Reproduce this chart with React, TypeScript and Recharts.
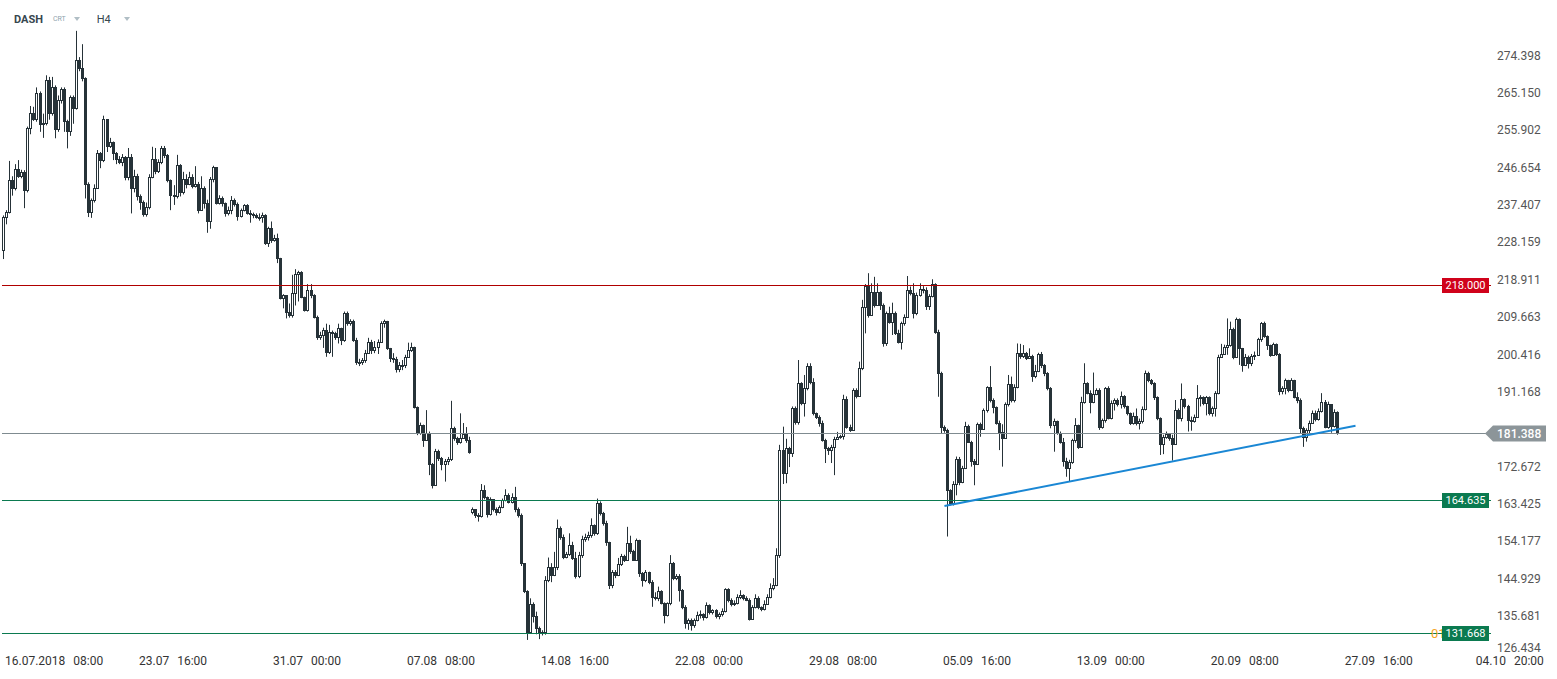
import React from 'react'
import { ComposedChart, Bar, XAxis, YAxis, ReferenceLine } from 'recharts'

// DASH / CRT, H4 candles, 16.07.2018 08:00 onwards
const INK = '#263238'

const firstOpen = 226.7
const gapOpens: Array<[number, number]> = [[154, 161.9]]

const closes = [
  // 16.07 - 25.07
  234.8, 236.2, 244.1, 242.0, 246.7, 245.1, 246.0, 241.6, 256.9, 260.6, 259.2, 265.5, 257.9, 258.3, 268.8, 260.6, 267.2, 256.7, 263.9, 266.5,
  258.8, 256.2, 264.5, 262.0, 273.8, 271.9, 269.3, 243.0, 236.2, 239.1, 242.2, 250.7, 249.0, 259.1, 252.6, 253.5, 250.7, 249.3, 248.6, 249.8,
  244.9, 249.8, 242.1, 245.1, 240.0, 238.7, 235.6, 237.5, 244.8, 249.2, 246.3, 248.6, 251.9,
  250.3, 244.1, 240.4, 240.0, 247.8, 241.2, 244.2, 243.1, 244.9, 242.6, 243.2, 236.7, 242.2, 238.5, 233.8, 244.2, 247.2, 238.5, 239.5, 238.3,
  235.8, 236.6, 239.1, 238.1, 235.2, 236.6, 237.8, 236.0, 235.7, 235.4, 235.0, 234.8, 235.5, 228.4, 232.1, 229.2, 229.8, 224.7, 214.8, 215.6,
  211.5, 210.6, 216.0, 220.8, 221.2, 215.2, 211.9, 216.8, 215.6, 210.2, 205.3, 205.8, 207.0, 201.6, 206.5,
  // 03.08 - 11.08
  206.1, 205.3, 207.4, 204.5, 211.1, 208.7, 209.2, 204.5, 199.1, 199.0, 199.5, 201.2, 204.0, 202.0, 202.8, 204.0, 208.7, 209.2, 202.4, 200.0,
  199.7, 197.4, 198.3, 198.2, 200.3, 202.1, 202.7, 187.8, 181.4, 183.4, 179.7, 181.5, 173.8, 168.6, 177.0, 175.2, 173.8, 174.6, 174.9, 182.6,
  180.1, 179.2, 180.3, 181.2, 179.7, 176.8,
  // 11.08 - 20.08
  162.5, 161.1, 160.8, 167.3, 165.7, 161.4, 165.0, 162.5, 161.9, 163.0, 164.8, 166.1, 164.4, 165.7, 162.5, 161.1, 149.2, 142.2, 132.2, 139.1,
  136.0, 133.1, 131.8, 132.1, 145.0, 148.3, 146.3, 148.3, 157.8, 155.8, 150.8, 151.4, 153.7, 150.4, 146.0, 151.2, 155.3, 155.8, 156.2, 158.6,
  156.6, 164.2, 161.7, 159.1, 154.5, 143.8, 147.1, 146.3, 149.1, 151.0, 150.0, 154.2,
  // 20.08 - 29.08
  152.1, 150.0, 155.0, 146.7, 145.0, 147.1, 144.6, 140.9, 140.5, 142.2, 139.3, 136.4, 139.3, 149.2, 145.5, 146.0, 142.6, 138.4, 134.3, 135.1,
  133.9, 135.1, 136.3, 136.5, 135.8, 138.8, 137.2, 137.5, 136.0, 136.6, 137.4, 142.7, 140.1, 139.0, 139.4, 140.9, 141.2, 140.6, 140.2, 135.5,
  138.4, 140.7, 138.3, 137.8, 139.2, 140.9, 143.0, 143.8, 151.2, 177.2, 171.5, 177.6, 176.4, 187.5, 184.2, 193.7,
  // 29.08 - 07.09
  188.9, 192.5, 198.0, 194.1, 186.3, 185.5, 183.8, 179.7, 177.6, 177.3, 178.0, 179.9, 180.5, 180.6, 189.8, 183.0, 182.2, 192.1, 190.7, 197.6,
  212.7, 217.8, 210.6, 216.4, 213.1, 216.4, 213.1, 203.6, 211.1, 209.0, 211.1, 206.3, 204.0, 208.6, 210.2, 216.8, 216.0, 211.1, 215.6, 217.0,
  216.8, 212.9, 215.3, 218.3, 206.5, 196.2, 183.0, 182.2, 167.3, 164.0, 168.9, 175.1, 169.4, 172.7,
  // 07.09 - 16.09
  183.2, 179.3, 174.6, 173.8, 183.7, 182.5, 187.1, 192.7, 189.6, 187.8, 184.0, 181.8, 180.1, 188.6, 193.6, 189.6, 192.9, 201.3, 200.5, 201.3,
  200.1, 200.6, 195.5, 196.9, 201.0, 198.3, 196.4, 192.5, 183.4, 184.5, 181.5, 179.3, 174.6, 172.7, 174.3, 179.7, 183.4, 178.0, 189.2, 193.7,
  191.4, 189.2, 191.2, 192.2, 183.0, 184.6, 192.5, 185.1, 188.8, 189.5, 188.6, 190.6, 188.0, 186.3,
  // 16.09 - 27.09
  183.8, 185.6, 183.8, 184.5, 187.3, 196.4, 194.6, 193.9, 190.3, 185.1, 178.7, 180.4, 181.2, 180.2, 178.8, 187.1, 185.1, 189.8, 188.0, 184.6,
  184.3, 185.5, 190.0, 190.3, 188.8, 190.3, 186.3, 187.5, 191.3, 200.3, 201.0, 202.8, 203.2, 207.1, 200.3, 209.6, 202.4, 198.3, 200.3, 198.7,
  200.5, 200.8, 204.6, 208.7, 205.4, 203.2, 200.7, 203.5, 201.0, 191.9, 192.6, 194.5, 192.0, 194.5, 190.4,
  189.6, 182.6, 180.5, 182.2, 184.0, 186.3, 184.8, 187.0, 189.2, 183.0, 188.5, 183.2, 186.7, 181.4,
]

const highs = [
  235.3, 236.6, 248.8, 245.0, 248.0, 249.0, 246.6, 246.5, 257.3, 262.4, 262.2, 267.0, 266.0, 260.5, 270.0, 269.6, 269.6, 267.5, 265.0, 267.0,
  267.0, 259.0, 265.0, 265.0, 281.0, 274.5, 277.7, 269.5, 243.5, 239.5, 243.0, 251.5, 251.0, 260.0, 259.0, 254.5, 253.6, 251.0, 250.0, 250.5,
  250.0, 252.0, 250.5, 246.6, 245.6, 240.5, 239.0, 238.5, 245.5, 252.3, 252.0, 249.2, 252.5,
  252.5, 250.5, 244.2, 242.8, 250.3, 248.0, 246.1, 245.5, 246.1, 245.5, 247.5, 243.6, 245.0, 242.5, 239.2, 244.8, 247.6, 242.6, 240.3, 240.0,
  238.5, 237.5, 240.1, 239.5, 238.5, 237.0, 238.1, 238.1, 236.6, 236.0, 235.8, 235.8, 236.0, 235.6, 232.5, 233.8, 230.5, 230.8, 224.8, 215.8,
  215.5, 213.5, 220.6, 222.0, 221.6, 221.5, 215.2, 218.3, 218.3, 215.8, 210.5, 206.5, 207.5, 208.5, 208.2,
  206.8, 206.5, 208.5, 207.5, 211.5, 211.5, 209.6, 209.5, 205.0, 199.8, 200.0, 202.0, 205.0, 204.5, 204.2, 204.6, 209.1, 209.5, 208.5, 202.5,
  201.2, 200.3, 199.0, 199.5, 200.8, 203.8, 203.8, 202.8, 188.0, 184.0, 183.5, 187.1, 181.8, 174.0, 177.5, 177.3, 175.5, 175.0, 175.5, 189.4,
  183.0, 180.5, 186.3, 183.9, 182.9, 180.5,
  163.0, 162.5, 161.6, 168.8, 168.5, 165.5, 165.5, 165.0, 163.0, 163.5, 165.2, 167.5, 166.5, 166.5, 168.1, 163.0, 161.5, 149.0, 142.5, 140.5,
  139.5, 137.2, 133.5, 132.6, 146.0, 150.6, 149.2, 152.0, 160.0, 158.3, 156.3, 152.0, 156.6, 154.5, 152.0, 152.0, 156.0, 156.5, 157.0, 160.3,
  158.8, 165.2, 164.5, 161.9, 159.7, 154.5, 147.5, 147.5, 150.5, 151.5, 151.3, 158.2,
  156.0, 152.5, 155.3, 155.0, 147.0, 147.5, 147.0, 145.0, 142.0, 143.4, 142.5, 139.5, 139.5, 151.2, 149.5, 146.5, 146.5, 142.8, 138.8, 135.5,
  135.5, 135.5, 137.2, 137.5, 136.8, 139.5, 139.0, 137.8, 137.8, 137.0, 138.0, 143.0, 143.0, 140.5, 140.0, 141.5, 142.5, 141.5, 141.0, 140.5,
  138.8, 141.5, 141.0, 138.5, 140.0, 141.5, 144.2, 145.5, 152.9, 178.5, 183.0, 180.0, 178.0, 188.0, 188.0, 199.5,
  194.0, 195.8, 198.7, 198.7, 195.0, 186.5, 185.8, 184.5, 180.0, 178.0, 178.5, 180.5, 181.7, 181.0, 190.9, 190.5, 183.5, 192.5, 192.5, 199.1,
  214.4, 218.3, 221.0, 218.5, 220.1, 218.5, 216.5, 213.5, 211.5, 212.7, 213.7, 211.5, 207.0, 209.0, 210.8, 220.3, 217.7, 218.5, 216.2, 218.5,
  217.8, 217.5, 215.8, 219.5, 218.5, 207.0, 196.6, 183.3, 182.5, 167.5, 169.5, 175.6, 175.5, 173.3,
  184.2, 183.5, 179.5, 175.0, 184.0, 184.0, 187.5, 193.0, 198.0, 190.0, 188.0, 184.5, 183.6, 189.0, 195.8, 195.4, 193.5, 203.6, 203.5, 203.2,
  201.5, 202.4, 200.8, 198.3, 201.3, 201.5, 198.5, 196.5, 192.8, 185.0, 184.2, 181.8, 180.2, 175.3, 174.8, 180.0, 185.1, 183.5, 190.4, 198.7,
  194.0, 192.0, 196.4, 192.5, 192.5, 185.0, 192.8, 193.0, 189.5, 190.0, 190.0, 191.7, 190.8, 188.2,
  186.5, 186.5, 187.5, 185.0, 188.0, 196.9, 196.6, 194.8, 194.0, 190.5, 185.3, 181.0, 181.8, 181.3, 181.0, 189.6, 187.5, 193.7, 190.0, 188.4,
  185.5, 186.0, 193.3, 190.8, 190.5, 190.6, 190.5, 188.0, 191.8, 200.8, 203.5, 203.3, 209.8, 209.0, 207.5, 210.0, 209.8, 202.5, 201.0, 200.6,
  201.0, 201.6, 205.0, 208.9, 209.0, 205.6, 203.3, 203.8, 203.6, 201.2, 193.0, 194.9, 194.6, 195.0, 194.6,
  191.5, 190.0, 183.0, 182.6, 184.5, 187.0, 187.0, 187.5, 191.3, 189.6, 189.2, 188.6, 187.3, 186.8,
]

const lows = [
  224.5, 233.1, 235.8, 240.2, 241.5, 244.6, 244.5, 237.1, 241.0, 255.4, 258.7, 258.5, 256.0, 254.5, 257.6, 259.0, 260.0, 254.4, 256.0, 263.0,
  256.0, 251.9, 255.0, 258.0, 261.5, 271.0, 268.5, 239.5, 234.9, 234.7, 238.5, 242.0, 247.0, 248.5, 251.0, 252.0, 249.0, 248.0, 248.0, 247.5,
  244.0, 244.0, 235.8, 241.0, 239.0, 236.7, 235.0, 235.0, 236.8, 244.5, 245.5, 245.8, 248.0,
  249.5, 243.5, 236.6, 237.9, 239.5, 240.0, 240.5, 242.0, 242.8, 242.0, 242.2, 235.8, 236.5, 237.0, 231.0, 232.0, 243.5, 238.0, 238.0, 237.5,
  235.0, 235.3, 235.6, 237.5, 234.0, 234.8, 236.3, 235.5, 233.5, 234.6, 234.5, 234.0, 233.5, 228.0, 227.5, 228.5, 228.8, 223.5, 214.5, 212.3,
  209.8, 210.0, 210.0, 213.0, 214.0, 214.8, 211.5, 211.5, 214.8, 209.8, 204.5, 204.5, 202.5, 200.3, 201.0,
  200.3, 204.5, 203.6, 203.2, 204.0, 208.0, 208.0, 204.0, 198.3, 198.0, 198.3, 198.8, 201.0, 201.0, 201.2, 201.0, 203.8, 207.5, 202.0, 199.0,
  198.8, 196.4, 196.5, 197.0, 197.5, 200.0, 201.5, 187.5, 180.9, 181.0, 178.0, 179.5, 171.0, 167.7, 168.5, 174.5, 172.2, 169.4, 173.5, 174.5,
  179.5, 178.5, 178.8, 180.0, 179.0, 176.3,
  161.3, 160.4, 159.5, 160.5, 165.0, 160.5, 161.0, 162.0, 161.0, 161.5, 162.8, 164.5, 164.0, 164.0, 161.8, 160.5, 148.5, 141.8, 130.2, 132.0,
  134.5, 131.6, 130.4, 131.3, 131.5, 144.5, 144.5, 146.0, 147.5, 155.0, 150.2, 150.4, 151.0, 150.0, 145.4, 145.5, 150.5, 154.5, 154.8, 155.5,
  156.0, 156.2, 161.0, 158.5, 153.5, 142.8, 143.0, 145.5, 146.0, 148.5, 149.5, 149.8,
  151.5, 149.8, 149.8, 145.8, 143.4, 144.5, 144.0, 138.4, 140.0, 139.8, 139.0, 134.3, 136.0, 138.8, 145.0, 145.0, 139.7, 137.8, 133.0, 132.7,
  132.5, 133.2, 134.8, 135.5, 135.0, 135.5, 136.5, 136.5, 135.5, 135.3, 136.0, 137.0, 139.5, 138.5, 138.6, 139.0, 140.3, 140.0, 139.8, 135.0,
  135.2, 138.0, 137.8, 137.3, 137.5, 139.0, 140.5, 142.5, 143.5, 150.5, 168.8, 169.0, 173.0, 175.5, 183.5, 183.5,
  188.3, 185.5, 192.0, 193.5, 185.8, 184.9, 183.0, 179.3, 174.0, 176.0, 174.0, 171.0, 179.7, 180.0, 179.8, 182.5, 181.7, 182.0, 190.0, 194.6,
  197.0, 206.1, 210.0, 210.5, 212.5, 213.0, 211.9, 202.8, 203.0, 208.5, 205.7, 205.7, 203.6, 202.1, 208.0, 210.0, 215.5, 209.8, 210.6, 215.2,
  216.0, 211.9, 211.9, 215.0, 206.0, 190.4, 181.3, 181.5, 155.8, 163.5, 163.5, 166.0, 168.5, 169.0,
  172.5, 179.0, 173.1, 168.5, 173.5, 180.5, 184.8, 186.5, 189.0, 186.3, 183.5, 177.2, 173.1, 180.0, 188.0, 189.0, 189.0, 192.5, 199.8, 200.0,
  199.5, 199.8, 194.1, 195.0, 196.5, 197.5, 195.5, 192.0, 182.6, 176.8, 181.0, 178.8, 173.1, 170.6, 169.4, 173.8, 179.0, 177.5, 177.8, 188.7,
  191.0, 186.3, 188.8, 190.8, 182.2, 182.5, 184.0, 184.8, 184.8, 187.0, 188.0, 187.5, 187.5, 185.8,
  183.4, 183.5, 183.3, 182.3, 183.8, 187.0, 194.0, 193.3, 189.6, 184.6, 176.0, 176.2, 180.0, 179.5, 174.6, 178.5, 184.8, 184.3, 187.5, 181.8,
  182.0, 184.0, 185.2, 188.0, 188.3, 185.8, 185.8, 185.5, 185.5, 191.0, 200.0, 200.8, 200.8, 202.8, 199.7, 200.5, 198.3, 196.6, 198.0, 197.4,
  198.0, 199.5, 200.8, 204.0, 205.0, 202.0, 200.3, 200.5, 200.5, 190.8, 191.0, 191.0, 191.5, 191.8, 190.0,
  188.8, 181.4, 178.0, 179.3, 181.0, 183.8, 184.3, 184.5, 186.5, 182.6, 182.5, 181.5, 182.8, 181.0,
]

// time axis: one slot per H4 candle, empty slots continue into the future
const totalSlots = 489
const xTickIndex = [0, 44, 88, 132, 176, 220, 264, 308, 352, 396, 440, 483]
const xTickDates = ['16.07.2018', '23.07', '31.07', '07.08', '14.08', '22.08', '29.08', '05.09', '13.09', '20.09', '27.09', '04.10']
const xTickTimes = ['08:00', '16:00', '00:00', '08:00', '16:00', '00:00', '08:00', '16:00', '00:00', '08:00', '16:00', '20:00']

const yTicks = [274.398, 265.15, 255.902, 246.654, 237.407, 228.159, 218.911, 209.663, 200.416, 191.168, 172.672, 163.425, 154.177, 144.929, 135.681, 126.434]

const resistance = 218.0
const lastPrice = 181.388
const support = 164.635
const swingLow = 131.668
const trendFrom = { i: 309, v: 163.36 }
const trendTo = { i: 444, v: 183.24 }

const data = Array.from({ length: totalSlots }, (_, i) => {
  if (i >= closes.length) return { i }
  const gap = gapOpens.find((g) => g[0] === i)
  const o = i === 0 ? firstOpen : gap ? gap[1] : closes[i - 1]
  const c = closes[i]
  const h = Math.max(highs[i] ?? c, o, c)
  const l = Math.min(lows[i] ?? c, o, c)
  return { i, o, h, l, c, range: [l, h] }
})

function Candle(props: any) {
  const { x, y, width, height, payload } = props
  if (!payload || payload.c == null || !isFinite(y) || !isFinite(height)) return <g />
  const { o, h, l, c } = payload
  const ratio = h - l > 0 ? height / (h - l) : 0
  const py = (v: number) => y + (h - v) * ratio
  const n = Math.round(x + width / 2 - 1.5)
  const top = Math.round(py(Math.max(o, c)))
  const bot = Math.round(py(Math.min(o, c)))
  const up = c > o
  return (
    <g>
      <line x1={n + 1.5} x2={n + 1.5} y1={y} y2={y + height} stroke={INK} strokeWidth={1} />
      <rect x={n + 0.5} y={top + 0.5} width={2} height={Math.max(bot - top, 1)} fill={up ? '#ffffff' : INK} stroke={INK} strokeWidth={1} />
    </g>
  )
}

// horizontal levels drawn on whole pixels so they stay 1px sharp
const crispLine = (color: string) => (p: any) => {
  const y = Math.floor(p.y1) + 0.5
  return <line x1={p.x1} x2={p.x2} y1={y} y2={y} stroke={color} strokeWidth={1} />
}

function TimeTick(props: any) {
  const { x, payload } = props
  const k = xTickIndex.indexOf(payload.value)
  if (k < 0) return <g />
  return (
    <text x={x + 1.5} y={661} dy="0.35em" fontSize={12} fill="#333" fontFamily="Roboto">
      <tspan>{xTickDates[k]}</tspan>
      <tspan dx={8}>{xTickTimes[k]}</tspan>
    </text>
  )
}

function PriceTick(props: any) {
  const { y, payload } = props
  return (
    <text x={1497} y={Math.min(y - 2, 648)} dy="0.35em" fontSize={12} fill="#555" fontFamily="Roboto">
      {Number(payload.value).toFixed(3)}
    </text>
  )
}

function LevelTag(props: any) {
  const { viewBox, text, fill, prefix } = props
  if (!viewBox) return null
  const right = viewBox.x + viewBox.width
  const bx = right - 49
  const y = Math.floor(viewBox.y) + 0.5
  return (
    <g>
      {prefix ? (
        <text x={bx - 11} y={y} dy="0.35em" fontSize={13} fill="#f5a623" fontFamily="Roboto">{prefix}</text>
      ) : null}
      <rect x={bx} y={y - 7.5} width={47} height={15} fill={fill} />
      <text x={bx + 23.5} y={y} dy="0.35em" textAnchor="middle" fontSize={11} fill="#fff" fontFamily="Roboto">{text}</text>
    </g>
  )
}

function LastTag(props: any) {
  const { viewBox, text } = props
  if (!viewBox) return null
  const tip = viewBox.x + viewBox.width - 6
  const y = Math.floor(viewBox.y) + 0.5
  const pts = `${tip},${y} ${tip + 8},${y - 8} ${tip + 61},${y - 8} ${tip + 61},${y + 8} ${tip + 8},${y + 8}`
  return (
    <g>
      <polygon points={pts} fill="#8c9599" />
      <text x={tip + 12} y={y} dy="0.35em" fontSize={12} fontWeight={500} fill="#fff" fontFamily="Roboto">{text}</text>
    </g>
  )
}

export default function App() {
  return (
    <div style={{ position: 'relative', width: 1557, height: 679, background: '#fff', fontFamily: 'Roboto' }}>
      <style>{'body{margin:0}'}</style>
      <ComposedChart width={1557} height={679} data={data} margin={{ top: 0, right: 0, bottom: 0, left: 2 }} barCategoryGap={0} barGap={0}>
        <XAxis dataKey="i" type="category" ticks={xTickIndex} interval={0} tick={<TimeTick />} axisLine={false} tickLine={false} height={23} />
        <YAxis
          orientation="right"
          type="number"
          domain={[126.22, 288.64]}
          allowDataOverflow
          ticks={yTicks}
          interval={0}
          tick={<PriceTick />}
          axisLine={false}
          tickLine={false}
          width={66}
        />
        <Bar dataKey="range" shape={<Candle />} isAnimationActive={false} />
        <ReferenceLine y={resistance} shape={crispLine('#b00000')} label={<LevelTag text="218.000" fill="#d0021b" />} />
        <ReferenceLine y={lastPrice} shape={crispLine('#7f8b90')} label={<LastTag text="181.388" />} />
        <ReferenceLine y={support} shape={crispLine('#0b7a50')} label={<LevelTag text="164.635" fill="#0b7a50" />} />
        <ReferenceLine y={swingLow} shape={crispLine('#0b7a50')} label={<LevelTag text="131.668" fill="#0b7a50" prefix="01" />} />
        <ReferenceLine
          segment={[{ x: trendFrom.i, y: trendFrom.v }, { x: trendTo.i, y: trendTo.v }]}
          stroke="#1a87d4"
          strokeWidth={2}
        />
      </ComposedChart>
      <div style={{ position: 'absolute', left: 14, top: 12, display: 'flex', alignItems: 'center', height: 14, fontSize: 11, color: '#37474f' }}>
        <span style={{ fontWeight: 700 }}>DASH</span>
        <span style={{ fontSize: 7, color: '#90a4ae', marginLeft: 10 }}>CRT</span>
        <span style={{ marginLeft: 8, width: 0, height: 0, borderLeft: '3.5px solid transparent', borderRight: '3.5px solid transparent', borderTop: '4px solid #b0bec5' }} />
        <span style={{ marginLeft: 17 }}>H4</span>
        <span style={{ marginLeft: 13, width: 0, height: 0, borderLeft: '3.5px solid transparent', borderRight: '3.5px solid transparent', borderTop: '4px solid #b0bec5' }} />
      </div>
    </div>
  )
}
